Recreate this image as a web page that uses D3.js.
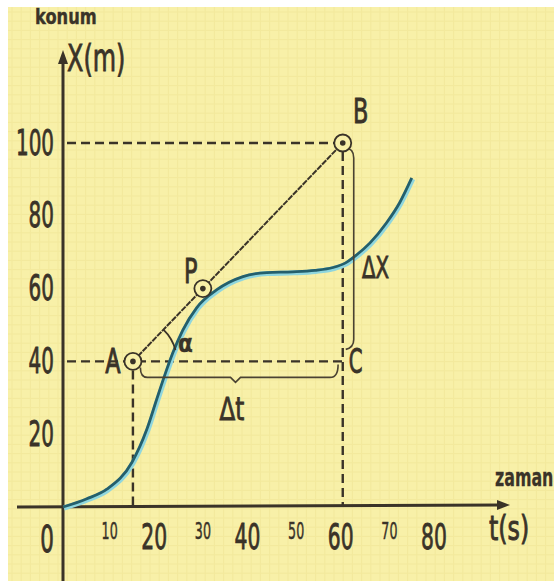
<!DOCTYPE html>
<html lang="tr">
<head>
  <meta charset="UTF-8">
  <title>Konum - zaman</title>
  <style>
    body {
      margin: 0;
      background: #fff;
      overflow: hidden;
    }

    svg text {
      font-family: "DejaVu Sans", sans-serif;
      fill: #3a3328;
    }
  </style>
</head>
<body>
  <svg id="chart" width="554" height="581"></svg>

  <script src="https://d3js.org/d3.v7.min.js"></script>
  <script>
    // curve (t in s, x in m)
    const curveT = [0, 5, 9.4, 14.8, 18, 20.1, 21.9, 23.6, 25.7, 28.7, 33, 38.6, 43.7, 49.3, 54, 57.9, 60.5, 63, 65.8, 69.4, 72.2, 74.8];
    const curveX = [0, 2.2, 4.9, 12.3, 21.4, 29.6, 36.5, 42.5, 48.6, 54.8, 59.7, 63.3, 64.4, 64.6, 65, 65.8, 67, 69.3, 72.5, 78.1, 83.6, 90.4];

    const pointNames = ["A", "P", "B"];
    const pointT = [15, 30, 60];
    const pointX = [40, 60, 100];
    const cornerC = [60, 40];

    const yTicks = [20, 40, 60, 80, 100];
    const xTicks = [10, 20, 30, 40, 50, 60, 70, 80];

    const ink = "#3a3328";
    const paper = "#f8f0a8";
    const svg = d3.select("#chart");

    const x = d3.scaleLinear().domain([0, 80]).range([63, 436]);
    const y = d3.scaleLinear().domain([0, 100]).range([507, 143]);

    // paper
    svg.append("rect").attr("x", 8).attr("y", 7).attr("width", 546).attr("height", 574).attr("fill", paper);
    const grid = svg.append("g").attr("stroke", "#ecdf8c").attr("stroke-width", 1).attr("opacity", 0.4);
    d3.range(12, 554, 9.2).forEach(v => {
      grid.append("line").attr("x1", v).attr("x2", v).attr("y1", 7).attr("y2", 581);
    });
    d3.range(12, 581, 9.2).forEach(v => {
      grid.append("line").attr("x1", 8).attr("x2", 554).attr("y1", v).attr("y2", v);
    });

    // squeezed text, the hand lettering is narrow and heavy
    function label(str, px, py, size, sx, anchor, weight, base) {
      return svg.append("text")
        .attr("transform", `translate(${px},${py}) scale(${sx},1)`)
        .attr("text-anchor", anchor || "start")
        .attr("dominant-baseline", base || "auto")
        .attr("font-size", size)
        .attr("font-weight", weight || "normal")
        .attr("stroke", ink)
        .attr("stroke-width", 0.9)
        .text(str);
    }

    // dashed guides
    const dash = svg.append("g").attr("stroke", ink).attr("stroke-width", 2.4).attr("stroke-dasharray", "9,5").attr("fill", "none");
    dash.append("line").attr("x1", x(0) + 4).attr("x2", x(pointT[2]) - 8).attr("y1", y(pointX[2])).attr("y2", y(pointX[2]));
    dash.append("line").attr("x1", x(0) + 4).attr("x2", x(cornerC[0])).attr("y1", y(cornerC[1])).attr("y2", y(cornerC[1]));
    dash.append("line").attr("x1", x(pointT[0])).attr("x2", x(pointT[0])).attr("y1", y(pointX[0]) + 9).attr("y2", y(0));
    dash.append("line").attr("x1", x(pointT[2])).attr("x2", x(pointT[2])).attr("y1", y(pointX[2]) + 9).attr("y2", y(0));

    // axes
    svg.append("line").attr("x1", x(0)).attr("x2", x(0)).attr("y1", 581).attr("y2", 58)
      .attr("stroke", ink).attr("stroke-width", 3);
    svg.append("path").attr("d", `M${x(0)},50 L${x(0) - 5},64 L${x(0) + 5},64 Z`).attr("fill", ink);
    svg.append("line").attr("x1", 17).attr("x2", 502).attr("y1", y(0)).attr("y2", y(0) - 2)
      .attr("stroke", ink).attr("stroke-width", 3.2);
    svg.append("path").attr("d", `M510,${y(0) - 2} L497,${y(0) - 7} L497,${y(0) + 3} Z`).attr("fill", ink);

    // the curve
    const line = d3.line().x(d => x(d[0])).y(d => y(d[1])).curve(d3.curveMonotoneX);
    const curveData = d3.zip(curveT, curveX);
    svg.append("path").datum(curveData).attr("d", line).attr("fill", "none")
      .attr("stroke", "#8fd6de").attr("stroke-width", 5).attr("transform", "translate(1,1)");
    svg.append("path").datum(curveData).attr("d", line).attr("fill", "none")
      .attr("stroke", "#245f6c").attr("stroke-width", 2.8);

    // secant A-B
    svg.append("line")
      .attr("x1", x(pointT[0])).attr("y1", y(pointX[0]))
      .attr("x2", x(pointT[2])).attr("y2", y(pointX[2]))
      .attr("stroke", ink).attr("stroke-width", 2).attr("stroke-dasharray", "6,1");

    // angle alpha
    const ang = Math.atan2(y(pointX[0]) - y(pointX[2]), x(pointT[2]) - x(pointT[0]));
    const arc = d3.arc().innerRadius(44).outerRadius(44)
      .startAngle(Math.PI / 2 - ang).endAngle(Math.PI / 2 - 0.26);
    svg.append("path").attr("d", arc()).attr("transform", `translate(${x(pointT[0])},${y(pointX[0])})`)
      .attr("fill", "none").attr("stroke", ink).attr("stroke-width", 1.8);
    label("α", 178, 352, 24, 0.9, "start", "bold").attr("stroke-width", 0.3);

    // braces
    const bx0 = x(16.6), bx1 = x(59), bxm = x(37), by0 = y(40) + 6, by1 = y(40) + 16;
    svg.append("path")
      .attr("d", `M${bx0},${by0} Q${bx0},${by1} ${bx0 + 7},${by1} L${bxm - 5},${by1} L${bxm},${by1 + 5} L${bxm + 5},${by1} L${bx1 - 8},${by1} Q${bx1},${by1} ${bx1},${by0 - 3}`)
      .attr("fill", "none").attr("stroke", "#4a4232").attr("stroke-width", 1.6);
    label("Δt", 232, 420, 32, 0.72, "middle");

    const vx = x(60) + 11, vy0 = y(100) + 5, vy1 = y(40) - 22;
    svg.append("path")
      .attr("d", `M${vx - 9},${vy0} Q${vx},${vy0} ${vx},${vy0 + 10} L${vx},${vy1} Q${vx},${vy1 + 8} ${vx - 8},${vy1 + 10}`)
      .attr("fill", "none").attr("stroke", "#4a4232").attr("stroke-width", 1.6);
    label("ΔX", 362, 278, 31, 0.64, "start");

    // marked points
    const pts = svg.append("g").selectAll("g").data(pointNames).join("g")
      .attr("transform", (d, i) => `translate(${x(pointT[i])},${y(pointX[i])})`);
    pts.append("circle").attr("r", 8.5).attr("fill", paper).attr("stroke", ink).attr("stroke-width", 1.8);
    pts.append("circle").attr("r", 2.8).attr("fill", ink);

    const nameOffsets = { A: [-20, 12], P: [-12, -6], B: [18, -20] };
    pointNames.forEach((n, i) => {
      const o = nameOffsets[n];
      label(n, x(pointT[i]) + o[0], y(pointX[i]) + o[1], 33, 0.68, "middle");
    });
    label("C", x(cornerC[0]) + 13, y(cornerC[1]) + 12, 33, 0.6, "middle");

    // tick labels
    yTicks.forEach(v => {
      label(v, 54, y(v), 35, 0.57, "end", "normal", "central");
    });
    xTicks.forEach(v => {
      const big = v % 20 === 0;
      label(v, x(v) - (big ? 2 : 0), big ? 549 : 539, big ? 35 : 23, big ? 0.58 : 0.55, "middle")
        .attr("stroke-width", big ? 0.9 : 0.5);
    });
    label("0", 47, 552, 37, 0.58, "middle");

    // axis titles
    label("konum", 35, 24, 22, 0.74, "start", "bold").attr("stroke-width", 0.4);
    label("X(m)", 67, 71, 38, 0.63, "start");
    label("zaman", 495, 486, 24, 0.66, "start", "bold").attr("stroke-width", 0.3);
    label("t(s)", 489, 540, 33, 0.72, "start");
  </script>
</body>
</html>
